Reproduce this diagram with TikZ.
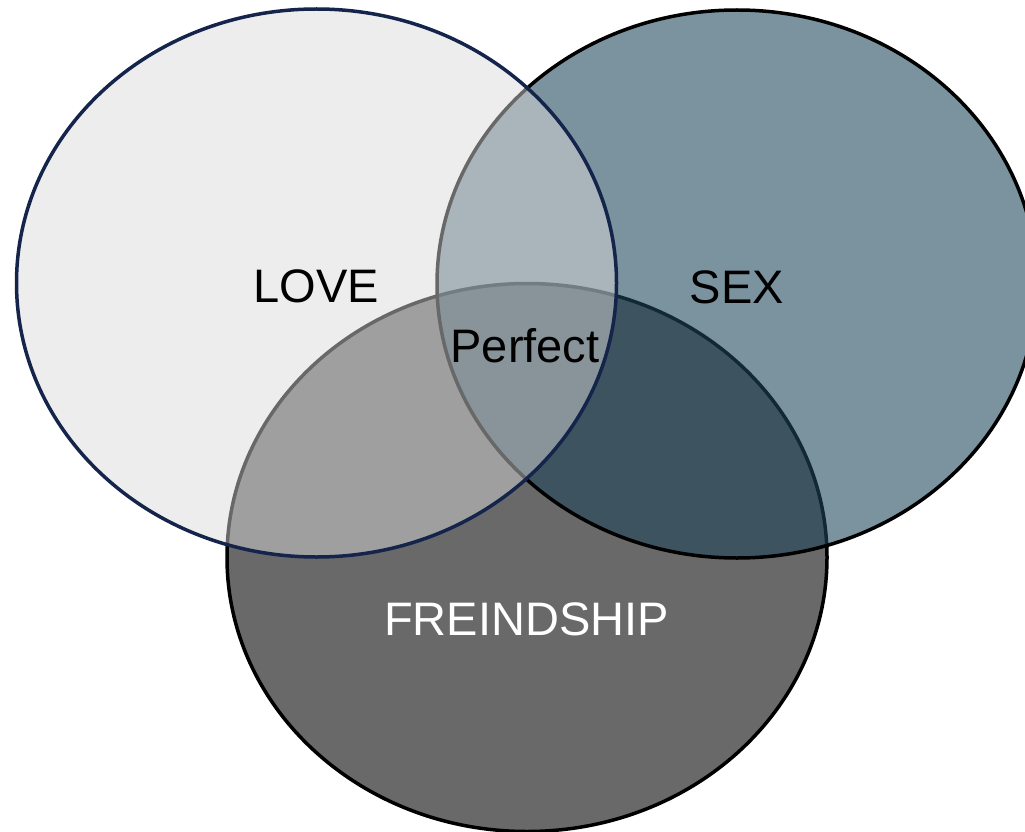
\documentclass[tikz,border=0pt]{standalone}
\usepackage{fontspec}
\setmainfont{Liberation Sans}
\usetikzlibrary{shapes.geometric}
\definecolor{lovefill}{RGB}{218,218,218}
\definecolor{loveline}{RGB}{20,36,74}
\definecolor{sexfill}{RGB}{31,70,91}
\definecolor{friendfill}{RGB}{105,105,105}
\begin{document}
\begin{tikzpicture}[x=1pt,y=-1pt,
  setshape/.style={ellipse, minimum width=600pt, minimum height=548pt, inner sep=0pt, line width=3.5pt},
  lbl/.style={font=\fontsize{47}{52}\selectfont, anchor=base, inner sep=0pt}]
\useasboundingbox (0,0) rectangle (1025,832);
\clip (0,0) rectangle (1025,832);
\node[setshape, draw=black, fill=friendfill] (friend) at (527,557.5) {};
\node[setshape, draw=black, fill=sexfill, fill opacity=0.59] (sex) at (737,284) {};
\node[setshape, draw=loveline, fill=lovefill, fill opacity=0.48] (love) at (316.5,283) {};
\node[lbl] (lovelbl) at (316.5,302) {LOVE};
\node[lbl] (sexlbl) at (737,303) {SEX};
\node[lbl] (perfect) at (525,362) {Perfect};
\node[lbl, text=white] (friendlbl) at (526.5,635) {FREINDSHIP};
\end{tikzpicture}
\end{document}
